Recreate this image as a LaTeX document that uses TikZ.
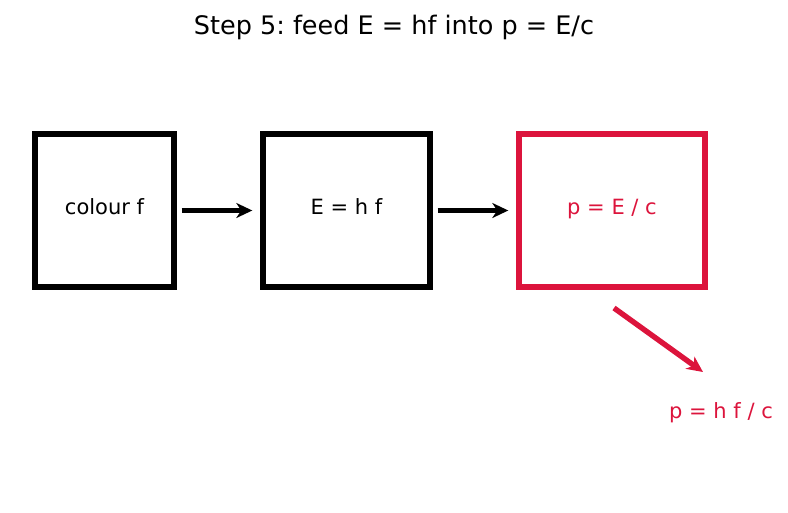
\documentclass[tikz,border=0pt]{standalone}
\usepackage{fontspec}
\setmainfont{DejaVu Sans}
\usepackage{xcolor}
\usetikzlibrary{arrows.meta, positioning}
\definecolor{crimson}{HTML}{DC143C}
\frenchspacing

\begin{document}
\begin{tikzpicture}[
  x=1pt, y=-1pt,
  box/.style={rectangle, draw, line width=5.4pt, minimum height=153pt,
              text height=0.8em, text depth=0pt,
              align=center, font=\fontsize{21}{25}\selectfont},
  arrow/.style={-{Stealth[length=16pt, width=15pt, inset=5pt]}, line width=5.4pt},
  lbl/.style={font=\fontsize{21}{25}\selectfont, inner sep=0pt}
]
\useasboundingbox (0,0) rectangle (788,512);

% Title
\node[font=\fontsize{25.5}{30}\selectfont] (title) at (394,27) {Step 5: feed E = hf into p = E/c};

% Chain of boxes
\node[box, minimum width=139pt] (colour) at (104.5,210.5) {colour f};
\node[box, minimum width=167pt] (energy) at (346.5,210.5) {E = h f};
\node[box, minimum width=186pt, draw=crimson, text=crimson] (momentum) at (612,210.5) {p = E / c};

% Result below the last box
\node[lbl, text=crimson] (result) at (721,413) {p = h f / c};
\coordinate (d0) at (614,308);
\coordinate (d1) at (703,372);

% Arrows
\draw[arrow, shorten <=5pt, shorten >=8pt] (colour) -- (energy);
\draw[arrow, shorten <=5pt, shorten >=8pt] (energy) -- (momentum);
\draw[arrow, crimson] (d0) -- (d1);

\end{tikzpicture}
\end{document}
